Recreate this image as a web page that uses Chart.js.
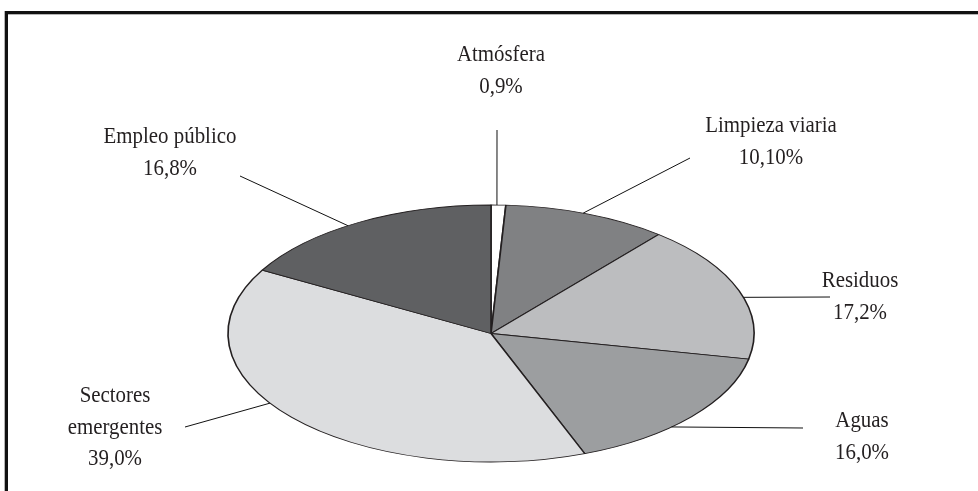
<!DOCTYPE html>
<html><head><meta charset="utf-8">
<script src="https://cdn.jsdelivr.net/npm/chart.js@4.4.1/dist/chart.umd.min.js"></script>
<style>html,body{margin:0;padding:0;background:#fff;}#wrap{width:978px;height:491px;position:relative;}</style>
</head><body><div id="wrap"><canvas id="c" width="978" height="491"></canvas></div>
<script>
// ---- data ----
const categories = ['Atmósfera', 'Limpieza viaria', 'Residuos', 'Aguas', 'Sectores emergentes', 'Empleo público'];
const values = [0.9, 10.1, 17.2, 16.0, 39.0, 16.8];
const valueLabels = ['0,9%', '10,10%', '17,2%', '16,0%', '39,0%', '16,8%'];
const labelLines = [['Atmósfera'], ['Limpieza viaria'], ['Residuos'], ['Aguas'], ['Sectores', 'emergentes'], ['Empleo público']];
const colors = ['#ffffff', '#808183', '#bcbdbf', '#9c9ea0', '#dcdddf', '#5f6062'];

// ---- label layout (annotation placement) ----
const labelPos = [
  {x: 501, y: 61, ox: 497, oy: 130, frac: 0.4},
  {x: 771, y: 132, ox: 690, oy: 158, frac: 0.475},
  {x: 860, y: 287, ox: 830, oy: 297, frac: 0.55},
  {x: 862, y: 427, ox: 803, oy: 428, frac: 0.61},
  {x: 115, y: 402, ox: 185, oy: 427, frac: 0.556},
  {x: 170, y: 143, ox: 240, oy: 176, frac: 0.455}
];
const RX = 263, RY = 128.5, SX = RX / RY;
const LINE_H = 31.5;
const TEXT_SCALE = 0.87;

const framePlugin = {
  id: 'frame',
  beforeDraw(chart) {
    const c = chart.ctx;
    c.save();
    c.fillStyle = '#fff'; c.fillRect(0, 0, 978, 491);
    c.fillStyle = '#b5b5b5';
    c.fillRect(4, 11, 1, 480);
    c.fillRect(5, 14, 973, 1);
    c.fillStyle = '#111';
    c.fillRect(5, 11, 3, 480);
    c.fillRect(5, 11, 973, 3);
    c.restore();
  }
};

const ellipsePlugin = {
  id: 'ellipse',
  beforeDatasetsDraw(chart) {
    const a = chart.getDatasetMeta(0).data[0];
    const c = chart.ctx;
    c.save();
    c.translate(a.x, a.y);
    c.scale(SX, 1);
    c.translate(-a.x, -a.y);
  },
  afterDatasetsDraw(chart) { chart.ctx.restore(); }
};

const labelPlugin = {
  id: 'labels',
  afterDraw(chart) {
    const c = chart.ctx;
    const arcs = chart.getDatasetMeta(0).data;
    c.save();
    arcs.forEach((arc, i) => {
      const p = labelPos[i];
      const ang = arc.startAngle + p.frac * (arc.endAngle - arc.startAngle);
      const ax = arc.x + arc.outerRadius * SX * Math.cos(ang);
      const ay = arc.y + arc.outerRadius * Math.sin(ang);
      c.strokeStyle = '#111'; c.lineWidth = 1;
      c.beginPath(); c.moveTo(ax, ay); c.lineTo(p.ox, p.oy); c.stroke();
      const lines = labelLines[i].concat([valueLabels[i]]);
      c.fillStyle = '#231f20';
      c.font = '24px "Liberation Serif", "Times New Roman", serif';
      c.textAlign = 'center'; c.textBaseline = 'alphabetic';
      lines.forEach((t, k) => {
        c.save();
        c.translate(p.x, p.y + k * LINE_H);
        c.scale(TEXT_SCALE, 1);
        c.fillText(t, 0, 0);
        c.restore();
      });
    });
    c.restore();
  }
};

new Chart(document.getElementById('c'), {
  type: 'pie',
  data: {
    labels: categories,
    datasets: [{
      data: values,
      backgroundColor: colors,
      borderColor: '#231f20',
      borderWidth: 0.8,
      radius: RY
    }]
  },
  options: {
    responsive: false,
    animation: false,
    events: [],
    layout: {padding: {left: 4, right: 0, top: 180, bottom: 4}},
    plugins: {legend: {display: false}, tooltip: {enabled: false}}
  },
  plugins: [framePlugin, ellipsePlugin, labelPlugin]
});
</script>
</body></html>
